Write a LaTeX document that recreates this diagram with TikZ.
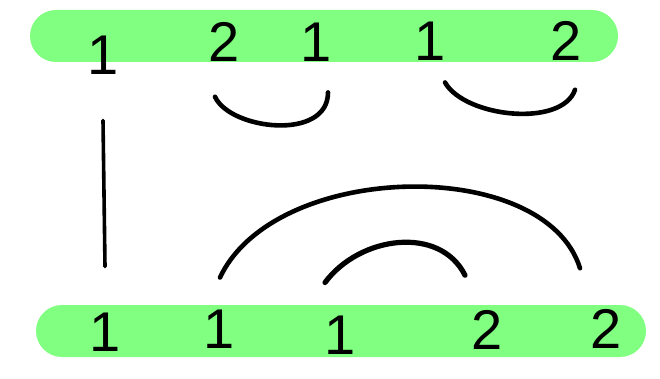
\documentclass[tikz,border=0pt]{standalone}
\usepackage{fontspec}
\setmainfont{Liberation Sans}
\usepackage{tikz}
\usetikzlibrary{positioning}
\definecolor{barGreen}{RGB}{128,255,128}

\begin{document}
\begin{tikzpicture}[
		x=1pt, y=1pt,
		bar/.style={
			rectangle,
			fill=barGreen,
			draw=none,
			rounded corners=26pt,
			minimum height=52pt,
			inner sep=0pt
		},
		digit/.style={
			font=\fontsize{56}{56}\selectfont,
			inner sep=0pt
		},
		link/.style={
			draw=black,
			line width=4.6pt,
			line cap=round
		}
		]
		\useasboundingbox (0,0) rectangle (660,-379);
		
		\node[bar, minimum width=588pt] (topbar) at (324,-36) {};
		\node[bar, minimum width=610pt] (botbar) at (341,-331) {};
		
		% top row
		\node[digit] (t1) at (103,-55) {1};
		\node[digit] (t2) at (224,-42) {2};
		\node[digit] (t3) at (316,-42) {1};
		\node[digit] (t4) at (430,-41) {1};
		\node[digit] (t5) at (566,-41) {2};
		
		% bottom row
		\node[digit] (b1) at (105,-332) {1};
		\node[digit] (b2) at (219,-329) {1};
		\node[digit] (b3) at (340,-335) {1};
		\node[digit] (b4) at (487,-330) {2};
		\node[digit] (b5) at (606,-329) {2};
		
		\draw[link, line width=3.6pt] ([yshift=-46pt]t1.south) -- ([yshift=46pt]b1.north);
		\draw[link] ([shift={(-9,-35)}]t2.south) .. controls +(15,-33) and +(0,-49) .. ([shift={(12,-31)}]t3.south);
		\draw[link] ([shift={(15,-22)}]t4.south) .. controls +(20,-35) and +(-13,-38) .. ([shift={(9,-29)}]t5.south);
		\draw[link] ([shift={(1,32)}]b2.north) .. controls +(55,117) and +(-35,113) .. ([shift={(-26,41)}]b5.north);
		\draw[link, line width=5.2pt] ([shift={(-15,33)}]b3.north) .. controls +(35,47) and +(-25,50) .. ([shift={(-22,35)}]b4.north);
		
	\end{tikzpicture}
\end{document}
